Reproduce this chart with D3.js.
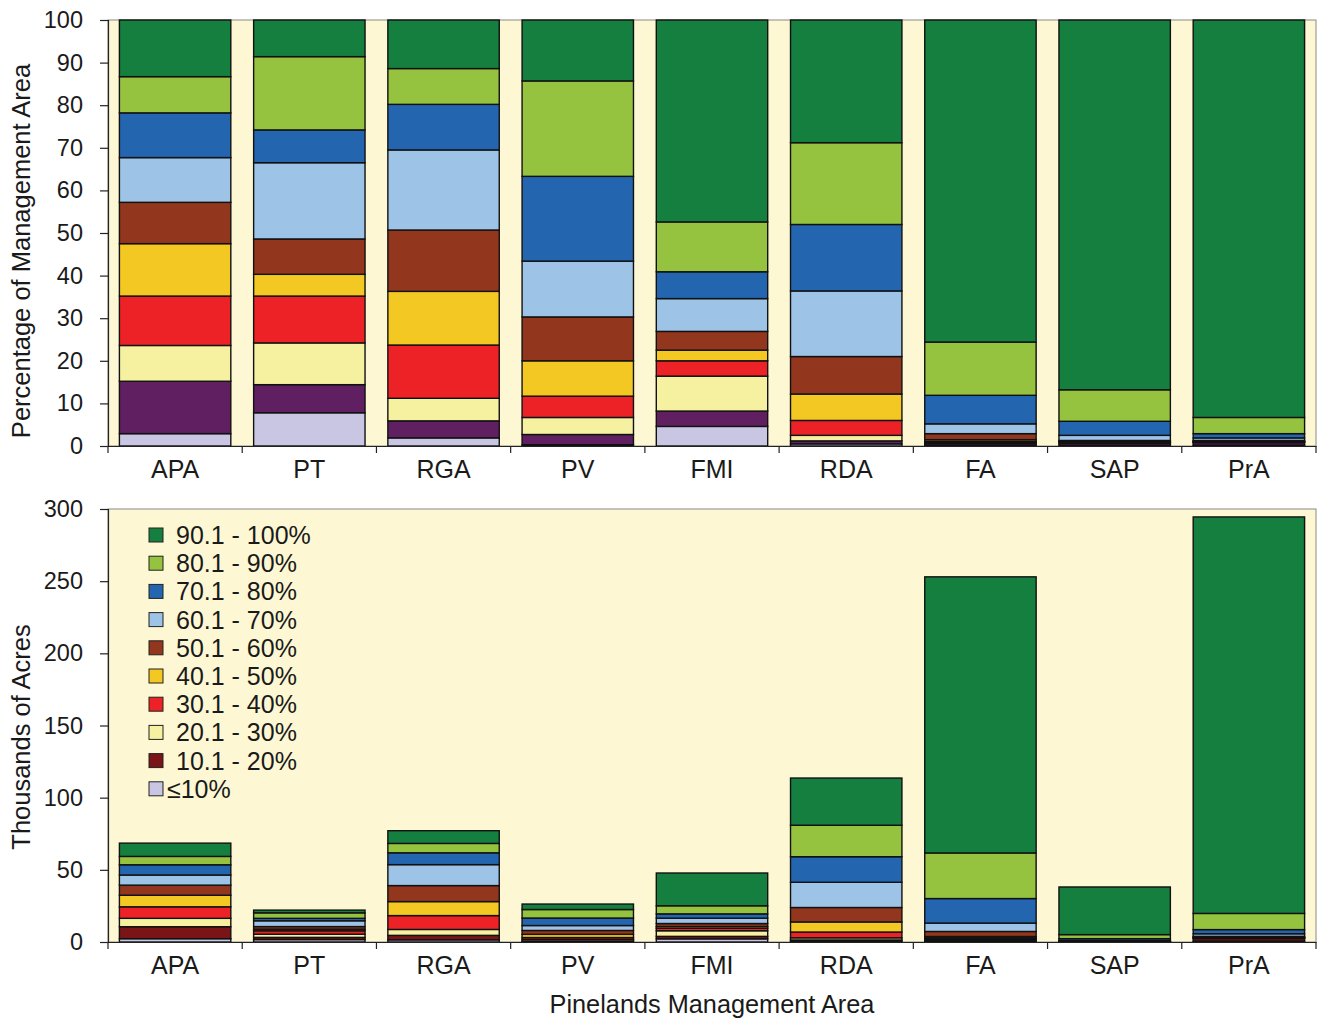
<!DOCTYPE html>
<html><head><meta charset="utf-8">
<script src="https://cdn.jsdelivr.net/npm/d3@7"></script>
<style>
body{margin:0;background:#fff;}
text{font-family:"Liberation Sans",Arial,sans-serif;fill:#1a1a1a;}
</style></head>
<body><svg id="c" width="1319" height="1020"></svg>
<script>
const categories = ["APA","PT","RGA","PV","FMI","RDA","FA","SAP","PrA"];
const classes = ["le10","p10","p20","p30","p40","p50","p60","p70","p80","p90"];
const classLabels = ["≤10%","10.1 - 20%","20.1 - 30%","30.1 - 40%","40.1 - 50%","50.1 - 60%","60.1 - 70%","70.1 - 80%","80.1 - 90%","90.1 - 100%"];

// Percentage of management area (top panel)
const pctLe10 = [2.9, 7.8, 1.9, 0.3, 4.6, 0.5, 0.2, 0.2, 0.2];
const pct10   = [12.3, 6.6, 4.0, 2.4, 3.6, 0.7, 0.4, 0.5, 0.6];
const pct20   = [8.4, 9.8, 5.3, 4.0, 8.2, 1.3, 0.3, 0.1, 0.1];
const pct30   = [11.6, 11.0, 12.5, 5.0, 3.6, 3.5, 0.2, 0.1, 0.1];
const pct40   = [12.3, 5.1, 12.6, 8.3, 2.5, 6.2, 0.4, 0.1, 0.1];
const pct50   = [9.7, 8.3, 14.4, 10.3, 4.4, 8.8, 1.4, 0.3, 0.2];
const pct60   = [10.5, 17.9, 18.8, 13.1, 7.7, 15.4, 2.3, 1.2, 0.6];
const pct70   = [10.5, 7.7, 10.7, 19.9, 6.3, 15.6, 6.7, 3.3, 1.0];
const pct80   = [8.5, 17.2, 8.4, 22.4, 11.7, 19.2, 12.5, 7.4, 3.8];
const pct90   = [13.3, 8.6, 11.4, 14.3, 47.4, 28.8, 75.6, 86.8, 93.3];

// Thousands of acres (bottom panel)
const acLe10 = [2.3, 1.7, 1.5, 0.1, 2.2, 0.6, 0.5, 0.1, 0.6];
const ac10   = [8.3, 1.5, 3.1, 0.6, 1.7, 0.8, 1.0, 0.2, 1.8];
const ac20   = [5.8, 2.2, 4.1, 1.1, 3.9, 1.5, 0.8, 0.04, 0.3];
const ac30   = [8.0, 2.4, 9.6, 1.3, 1.7, 4.0, 0.5, 0.04, 0.3];
const ac40   = [8.0, 1.1, 9.7, 2.2, 1.2, 7.0, 1.0, 0.04, 0.3];
const ac50   = [7.0, 1.8, 11.1, 2.7, 2.1, 10.0, 3.5, 0.1, 0.6];
const ac60   = [7.0, 4.0, 14.5, 3.4, 3.7, 17.5, 5.8, 0.5, 1.8];
const ac70   = [7.1, 1.7, 8.2, 5.2, 3.0, 17.7, 17.0, 1.3, 2.9];
const ac80   = [5.8, 3.8, 6.5, 5.9, 5.6, 21.8, 31.6, 2.8, 11.2];
const ac90   = [9.2, 1.9, 8.8, 3.8, 22.7, 32.7, 191.3, 33.0, 274.7];

const pctTicks = [0,10,20,30,40,50,60,70,80,90,100];
const acreTicks = [0,50,100,150,200,250,300];

const colorsTop = ["#c9c6e3","#5f1f61","#f5f1a1","#ec2227","#f4c823","#93361e","#9dc3e6","#2465b0","#96c33f","#157f3f"];
const colorsBottom = ["#c9c6e3","#7a1517","#f5f1a1","#ec2227","#f4c823","#93361e","#9dc3e6","#2465b0","#96c33f","#157f3f"];
const cream = "#fdf8d3";

function rows(arrs){
  return categories.map((c,i)=>{const o={cat:c}; classes.forEach((k,j)=>o[k]=arrs[j][i]); return o;});
}
const topData = rows([pctLe10,pct10,pct20,pct30,pct40,pct50,pct60,pct70,pct80,pct90]);
const botData = rows([acLe10,ac10,ac20,ac30,ac40,ac50,ac60,ac70,ac80,ac90]);

const svg = d3.select("#c");
const L = 108, R = 1316;
const x = d3.scaleBand().domain(categories).range([L,R]).paddingInner(0.17).paddingOuter(0.085);
const FONT = "Liberation Sans, Arial, sans-serif";

function panel(data, colors, y0, y1, domain, ticks, title, titleY){
  const y = d3.scaleLinear().domain(domain).range([y1,y0]);
  const g = svg.append("g");
  g.append("rect").attr("x",L).attr("y",y0).attr("width",R-L).attr("height",y1-y0)
    .attr("fill",cream).attr("stroke","#8a8a8a").attr("stroke-width",1);
  const stack = d3.stack().keys(classes)(data);
  g.selectAll("g.s").data(stack).join("g").attr("fill",(d,i)=>colors[i])
    .selectAll("rect").data(d=>d).join("rect")
    .attr("x",d=>x(d.data.cat)).attr("width",x.bandwidth())
    .attr("y",d=>y(d[1])).attr("height",d=>Math.max(0,y(d[0])-y(d[1])))
    .attr("stroke","#111").attr("stroke-width",1.4);
  // y axis
  const ya = g.append("g").attr("transform",`translate(${L},0)`)
    .call(d3.axisLeft(y).tickValues(ticks).tickSize(8).tickPadding(17));
  ya.select(".domain").attr("stroke","#222").attr("stroke-width",1.2);
  ya.selectAll(".tick line").attr("stroke","#222").attr("stroke-width",1.2);
  ya.selectAll("text").style("font-size","23.5px").attr("fill","#1a1a1a").attr("font-family",FONT);
  // x axis
  const xa = g.append("g").attr("transform",`translate(0,${y1})`)
    .call(d3.axisBottom(x).tickSize(0).tickPadding(14));
  xa.select(".domain").attr("stroke","#222").attr("stroke-width",1.2);
  xa.selectAll("text").style("font-size","25px").attr("fill","#1a1a1a").attr("font-family",FONT);
  const step = x.step();
  const bounds = d3.range(categories.length+1).map(i=>L+i*step);
  g.selectAll("line.bt").data(bounds).join("line").attr("class","bt")
    .attr("x1",d=>d).attr("x2",d=>d).attr("y1",y1).attr("y2",y1+7)
    .attr("stroke","#222").attr("stroke-width",1.2);
  g.append("text").attr("transform",`translate(30,${titleY}) rotate(-90)`)
    .attr("text-anchor","middle").style("font-size","25.5px").text(title);
  return y;
}

panel(topData, colorsTop, 20, 446, [0,100], pctTicks, "Percentage of Management Area", 251);
panel(botData, colorsBottom, 509, 942, [0,300], acreTicks, "Thousands of Acres", 737);

svg.append("text").attr("x",(L+R)/2).attr("y",1013).attr("text-anchor","middle")
  .style("font-size","25.3px").text("Pinelands Management Area");

// legend
const lg = svg.append("g");
const order = d3.range(classes.length).reverse();
order.forEach((ci,row)=>{
  const yy = 535 + row*28.2;
  lg.append("rect").attr("x",149).attr("y",yy-7).attr("width",14).attr("height",14)
    .attr("fill",colorsBottom[ci]).attr("stroke","#222").attr("stroke-width",1);
  lg.append("text").attr("x",ci===0?167:176).attr("y",yy).attr("dy","0.36em")
    .style("font-size","25px").text(classLabels[ci]);
});
</script></body></html>
